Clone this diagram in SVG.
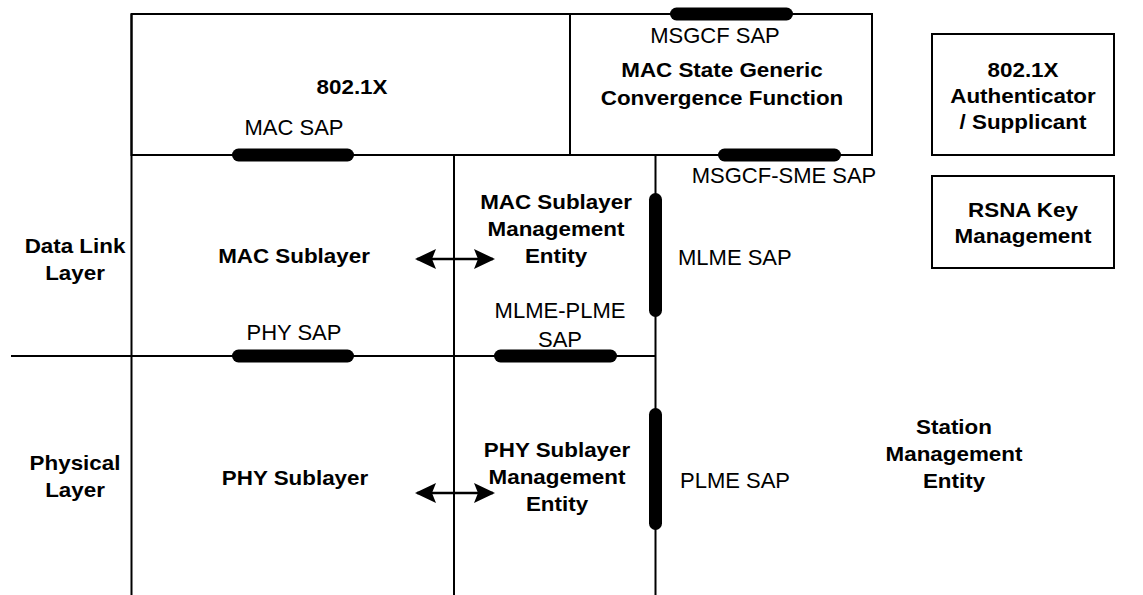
<svg xmlns="http://www.w3.org/2000/svg" width="1143" height="595" viewBox="0 0 1143 595">
  <style>
    .ln { stroke: #000; stroke-width: 2; fill: none; }
    .box { stroke: #000; stroke-width: 2; fill: none; }
    .sap { stroke: #000; stroke-width: 13; stroke-linecap: round; fill: none; }
    .b { font-family: "Liberation Sans", Arial, sans-serif; font-weight: bold; font-size: 20px; fill: #000; text-anchor: middle; }
    .r { font-family: "Liberation Sans", Arial, sans-serif; font-size: 22px; fill: #000; }
    .c { text-anchor: middle; }
  </style>
  <defs>
    <g id="dbl">
      <line x1="-38" y1="0" x2="38" y2="0" stroke="#000" stroke-width="2.5"/>
      <path d="M-40,0 L-19,-10 L-23,0 L-19,10 Z" fill="#000"/>
      <path d="M40,0 L19,-10 L23,0 L19,10 Z" fill="#000"/>
    </g>
  </defs>
  <rect width="1143" height="595" fill="#fff"/>

  <g id="frame">
    <line class="ln" x1="131.5" y1="14" x2="131.5" y2="595"/>
    <line class="ln" x1="131.5" y1="155" x2="872" y2="155"/>
    <line class="ln" x1="454" y1="155" x2="454" y2="595"/>
    <line class="ln" x1="655.5" y1="155" x2="655.5" y2="595"/>
    <line class="ln" x1="11" y1="356" x2="656" y2="356"/>
  </g>

  <g id="node-8021x">
    <rect class="box" x="131.5" y="14" width="438.5" height="141"/>
    <text class="b" transform="translate(352,94) scale(1.12,1)">802.1X</text>
  </g>

  <g id="node-msgcf">
    <rect class="box" x="570" y="14" width="302" height="141"/>
    <text class="b" transform="translate(722,0) scale(1.12,1)"><tspan x="0" y="77">MAC State Generic</tspan><tspan x="0" y="105">Convergence Function</tspan></text>
  </g>

  <g id="node-auth">
    <rect class="box" x="932" y="34" width="182" height="121"/>
    <text class="b" transform="translate(1023,0) scale(1.12,1)"><tspan x="0" y="77">802.1X</tspan><tspan x="0" y="103">Authenticator</tspan><tspan x="0" y="129">/ Supplicant</tspan></text>
  </g>

  <g id="node-rsna">
    <rect class="box" x="932" y="176" width="182" height="92"/>
    <text class="b" transform="translate(1023,0) scale(1.12,1)"><tspan x="0" y="217">RSNA Key</tspan><tspan x="0" y="243">Management</tspan></text>
  </g>

  <g id="node-datalink">
    <text class="b" transform="translate(75,0) scale(1.12,1)"><tspan x="0" y="253">Data Link</tspan><tspan x="0" y="280">Layer</tspan></text>
  </g>

  <g id="node-physical">
    <text class="b" transform="translate(75,0) scale(1.12,1)"><tspan x="0" y="470">Physical</tspan><tspan x="0" y="497">Layer</tspan></text>
  </g>

  <g id="node-mac">
    <text class="b" transform="translate(294,263) scale(1.12,1)">MAC Sublayer</text>
  </g>

  <g id="node-mlme">
    <text class="b" transform="translate(556,0) scale(1.12,1)"><tspan x="0" y="209">MAC Sublayer</tspan><tspan x="0" y="236">Management</tspan><tspan x="0" y="263">Entity</tspan></text>
  </g>

  <g id="node-phy">
    <text class="b" transform="translate(295,485) scale(1.12,1)">PHY Sublayer</text>
  </g>

  <g id="node-plme">
    <text class="b" transform="translate(557,0) scale(1.12,1)"><tspan x="0" y="457">PHY Sublayer</tspan><tspan x="0" y="484">Management</tspan><tspan x="0" y="511">Entity</tspan></text>
  </g>

  <g id="node-sme">
    <text class="b" transform="translate(954,0) scale(1.12,1)"><tspan x="0" y="434">Station</tspan><tspan x="0" y="461">Management</tspan><tspan x="0" y="488">Entity</tspan></text>
  </g>

  <g id="saps">
    <line class="sap" x1="676.5" y1="14" x2="786.5" y2="14"/>
    <text class="r c" x="715" y="43">MSGCF SAP</text>
    <line class="sap" x1="238.5" y1="155" x2="347.5" y2="155"/>
    <text class="r c" x="294" y="135">MAC SAP</text>
    <line class="sap" x1="724.5" y1="155" x2="834.5" y2="155"/>
    <text class="r c" x="784" y="183">MSGCF-SME SAP</text>
    <line class="sap" x1="655.5" y1="199.5" x2="655.5" y2="310.5"/>
    <text class="r" x="678" y="265">MLME SAP</text>
    <line class="sap" x1="238.5" y1="356" x2="347.5" y2="356"/>
    <text class="r c" x="294" y="340">PHY SAP</text>
    <line class="sap" x1="500.5" y1="356" x2="610.5" y2="356"/>
    <text class="r c"><tspan x="560" y="318">MLME-PLME</tspan><tspan x="560" y="347">SAP</tspan></text>
    <line class="sap" x1="655.5" y1="414.5" x2="655.5" y2="523.5"/>
    <text class="r" x="680" y="488">PLME SAP</text>
  </g>

  <g id="connectors">
    <use href="#dbl" transform="translate(455,259)"/>
    <use href="#dbl" transform="translate(455,493)"/>
  </g>
</svg>
